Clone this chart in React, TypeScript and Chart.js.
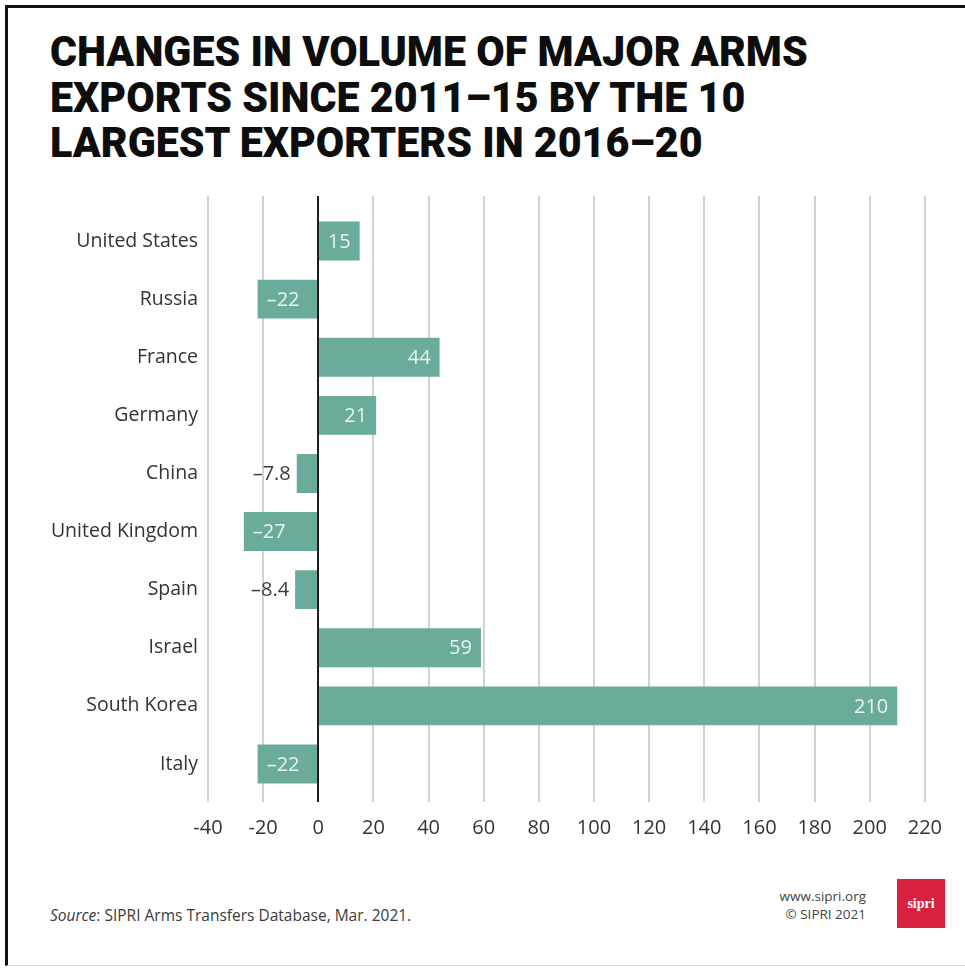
import React, { useEffect, useLayoutEffect, useRef, useState } from 'react';
import { Chart, registerables } from 'chart.js';

Chart.register(...registerables);

const countries = [
  'United States',
  'Russia',
  'France',
  'Germany',
  'China',
  'United Kingdom',
  'Spain',
  'Israel',
  'South Korea',
  'Italy',
];
const changes = [15, -22, 44, 21, -7.8, -27, -8.4, 59, 210, -22];
const valueLabels = ['15', '–22', '44', '21', '–7.8', '–27', '–8.4', '59', '210', '–22'];
const xMin = -40;
const xMax = 220;
const xStep = 20;

const titleLines = [
  'CHANGES IN VOLUME OF MAJOR ARMS',
  'EXPORTS SINCE 2011–15 BY THE 10',
  'LARGEST EXPORTERS IN 2016–20',
];

const BAR = '#6aab9c';
const FONT = "'Open Sans', 'Noto Sans', sans-serif";

const customPlugin = {
  id: 'custom',
  beforeDatasetsDraw(chart: any) {
    const { ctx, chartArea, scales } = chart;
    const x = scales.x;
    ctx.save();
    ctx.strokeStyle = '#d2d2d2';
    ctx.lineWidth = 2;
    x.ticks.forEach((t: any) => {
      if (t.value === 0) return;
      const px = Math.round(x.getPixelForValue(t.value));
      ctx.beginPath();
      ctx.moveTo(px, chartArea.top - 16);
      ctx.lineTo(px, chartArea.bottom + 9);
      ctx.stroke();
    });
    ctx.restore();
  },
  afterDatasetsDraw(chart: any) {
    const { ctx, chartArea, scales } = chart;
    const x = scales.x;
    ctx.save();
    const z = Math.round(x.getPixelForValue(0));
    ctx.strokeStyle = '#1e1e1e';
    ctx.lineWidth = 2;
    ctx.beginPath();
    ctx.moveTo(z, chartArea.top - 16);
    ctx.lineTo(z, chartArea.bottom + 9);
    ctx.stroke();

    const meta = chart.getDatasetMeta(0);
    ctx.font = `20px ${FONT}`;
    ctx.textBaseline = 'middle';
    meta.data.forEach((bar: any, i: number) => {
      const v = changes[i];
      const txt = valueLabels[i];
      const w = ctx.measureText(txt).width;
      const barW = Math.abs(bar.x - bar.base);
      const inside = w + 12 <= barW;
      if (v >= 0) {
        ctx.fillStyle = '#e8f4f0';
        ctx.textAlign = 'right';
        ctx.fillText(txt, bar.x - 9, bar.y + 1);
      } else if (inside) {
        ctx.fillStyle = '#e8f4f0';
        ctx.textAlign = 'left';
        ctx.fillText(txt, bar.x + 9, bar.y + 1);
      } else {
        ctx.fillStyle = '#3a3a3a';
        ctx.textAlign = 'right';
        ctx.fillText(txt, bar.x - 6, bar.y + 1);
      }
    });
    ctx.restore();
  },
};

function ChartBox() {
  const ref = useRef<HTMLCanvasElement>(null);
  useEffect(() => {
    const chart = new Chart(ref.current as HTMLCanvasElement, {
      type: 'bar',
      data: {
        labels: countries,
        datasets: [
          {
            data: changes,
            backgroundColor: BAR,
            borderWidth: 0,
            barPercentage: 0.67,
            categoryPercentage: 1,
          },
        ],
      },
      options: {
        indexAxis: 'y',
        animation: false,
        responsive: true,
        maintainAspectRatio: false,
        layout: { padding: { top: 32, right: 40, left: 0, bottom: 0 } },
        plugins: {
          legend: { display: false },
          tooltip: { enabled: false },
          title: { display: false },
        },
        scales: {
          x: {
            type: 'linear',
            min: xMin,
            max: xMax,
            grid: { display: false, drawTicks: false },
            border: { display: false },
            ticks: {
              stepSize: xStep,
              padding: 23,
              color: '#333333',
              font: { family: FONT, size: 20 },
              callback: (v: any) => String(v),
            },
            afterFit: (s: any) => {
              s.height = 67;
            },
          },
          y: {
            grid: { display: false, drawTicks: false },
            border: { display: false },
            ticks: {
              padding: 10,
              color: '#333333',
              font: { family: FONT, size: 19.5 },
            },
            afterFit: (s: any) => {
              s.width = 208;
            },
          },
        },
      },
      plugins: [customPlugin],
    });
    return () => chart.destroy();
  }, []);
  return (
    <div style={{ position: 'absolute', left: 0, top: 180, width: 965, height: 680 }}>
      <canvas ref={ref} />
    </div>
  );
}

function Title() {
  const ref = useRef<HTMLSpanElement>(null);
  const [k, setK] = useState(1);
  useLayoutEffect(() => {
    if (ref.current) {
      const w = ref.current.offsetWidth;
      if (w > 0) setK(758 / w);
    }
  }, []);
  return (
    <div style={{ position: 'absolute', left: 50, top: 29 }}>
      {titleLines.map((t, i) => (
        <div key={i} style={{ height: 45.5, lineHeight: '45.5px', whiteSpace: 'nowrap' }}>
          <span
            ref={i === 0 ? ref : undefined}
            style={{
              display: 'inline-block',
              fontFamily: "Roboto, 'Liberation Sans', sans-serif",
              fontWeight: 900,
              fontSize: 43,
              color: '#0d0d0d',
              transform: `scaleX(${k})`,
              transformOrigin: 'left center',
            }}
          >
            {t}
          </span>
        </div>
      ))}
    </div>
  );
}

export default function App() {
  return (
    <div
      style={{
        position: 'fixed',
        left: 0,
        top: 0,
        width: 965,
        height: 968,
        background: '#ffffff',
        overflow: 'hidden',
      }}
    >
      <div
        style={{
          position: 'absolute',
          left: 5,
          top: 5,
          width: 980,
          height: 957,
          borderLeft: '3px solid #111',
          borderTop: '3px solid #111',
          borderBottom: '1px solid #dddddd',
        }}
      />
      <Title />
      <ChartBox />
      <div
        style={{
          position: 'absolute',
          left: 50,
          top: 904,
          fontFamily: FONT,
          fontSize: 15.5,
          color: '#3a3a3a',
          whiteSpace: 'nowrap',
        }}
      >
        <i>Source</i>: SIPRI Arms Transfers Database, Mar. 2021.
      </div>
      <div
        style={{
          position: 'absolute',
          right: 965 - 866,
          top: 887,
          fontFamily: FONT,
          fontSize: 13.5,
          lineHeight: '18px',
          color: '#444444',
          textAlign: 'right',
          whiteSpace: 'nowrap',
        }}
      >
        <div>www.sipri.org</div>
        <div>© SIPRI 2021</div>
      </div>
      <div
        style={{
          position: 'absolute',
          left: 897,
          top: 879,
          width: 48,
          height: 49,
          background: '#d8203f',
          color: '#ffffff',
          fontFamily: "'Liberation Serif', 'DejaVu Serif', serif",
          fontWeight: 700,
          fontSize: 14,
          display: 'flex',
          alignItems: 'center',
          justifyContent: 'center',
        }}
      >
        sipri
      </div>
    </div>
  );
}
